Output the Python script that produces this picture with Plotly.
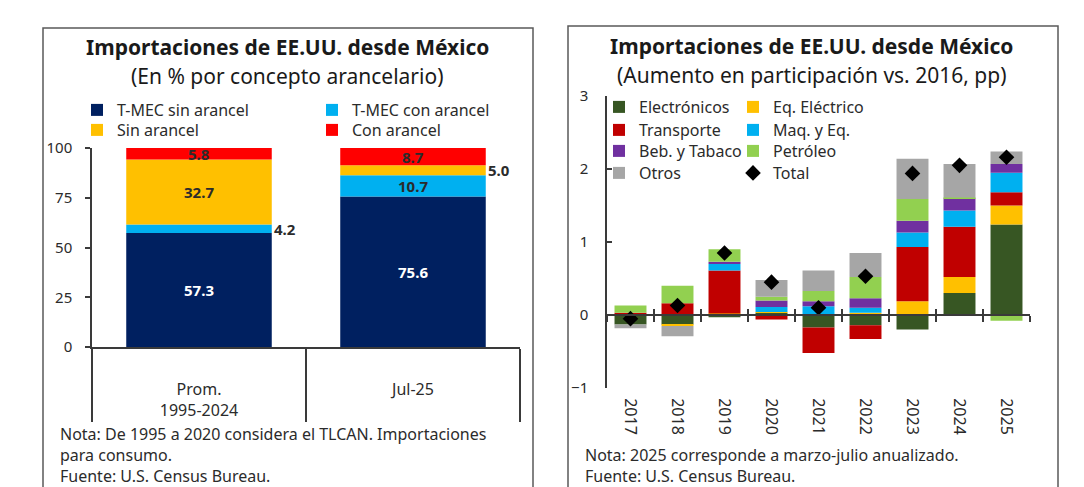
import plotly.graph_objects as go

# ---------------- Left chart data ----------------
left_categories = ["Prom.<br>1995-2024", "Jul-25"]
tmec_sin = [57.3, 75.6]
tmec_con = [4.2, 10.7]
sin_arancel = [32.7, 5.0]
con_arancel = [5.8, 8.7]
left_ticks = [0, 25, 50, 75, 100]

# ---------------- Right chart data ----------------
years = ["2017", "2018", "2019", "2020", "2021", "2022", "2023", "2024", "2025"]
electronicos = [-0.13, -0.13, -0.03, 0.03, -0.17, -0.14, -0.20, 0.30, 1.24]
eq_electrico = [0.00, -0.02, 0.02, 0.01, 0.00, 0.03, 0.19, 0.22, 0.26]
transporte = [0.03, 0.16, 0.59, -0.06, -0.35, -0.19, 0.74, 0.69, 0.18]
maq_eq = [0.00, 0.00, 0.09, 0.07, 0.12, 0.07, 0.20, 0.22, 0.27]
beb_tabaco = [0.00, 0.00, 0.03, 0.09, 0.07, 0.13, 0.16, 0.17, 0.12]
petroleo = [0.10, 0.24, 0.17, 0.05, 0.14, 0.29, 0.30, 0.01, -0.08]
otros = [-0.05, -0.14, 0.00, 0.23, 0.28, 0.33, 0.55, 0.46, 0.17]
total = [-0.05, 0.13, 0.85, 0.45, 0.10, 0.53, 1.94, 2.05, 2.16]
total_labels = ["", "", "", "", "", "", "1.9", "2.1", "2.2"]
right_ticks = [-1, 0, 1, 2, 3]

FONT = "Noto Sans"
AX = "#3a3a3a"
TXT = "#2b2b2b"
W, H = 1084, 487
OFF = 8  # page body margin offset


def px_x(p):
    return (p - OFF) / W


def px_y(p):
    return 1 - (p - OFF) / H


fig = go.Figure()
annotations = []
legends = {}

# ---------------- Left chart ----------------
left_series = [
    ("T-MEC sin arancel", tmec_sin, "#002060", "white", 117, 110),
    ("T-MEC con arancel", tmec_con, "#00b0f0", TXT, 352, 110),
    ("Sin arancel", sin_arancel, "#ffc000", TXT, 117, 130),
    ("Con arancel", con_arancel, "#ff0000", TXT, 352, 130),
]
base = [0.0] * len(left_categories)
for i, (name, vals, color, tcol, lx, ly) in enumerate(left_series):
    leg = "legend" if i == 0 else f"legend{i + 1}"
    legends[leg] = (lx, ly)
    fig.add_trace(go.Bar(
        x=left_categories, y=vals, name=name, marker=dict(color=color, line=dict(width=0)),
        xaxis="x", yaxis="y", legend=leg, hoverinfo="skip",
    ))
    for j, v in enumerate(vals):
        inside = v >= 5.5
        annotations.append(dict(
            x=left_categories[j], y=base[j] + v / 2, xref="x", yref="y", showarrow=False,
            text=f"<b>{v:.1f}</b>", xanchor="center" if inside else "left",
            xshift=0 if inside else 73,
            font=dict(family=FONT, size=15, color=tcol if inside else TXT)))
    base = [b + v for b, v in zip(base, vals)]

fig.add_trace(go.Scatter(x=left_categories, y=[0, 0], xaxis="x2", yaxis="y", mode="markers",
                         marker=dict(opacity=0), showlegend=False, hoverinfo="skip"))

# ---------------- Right chart ----------------
right_series = [
    ("Electrónicos", electronicos, "#375623", 639, 107),
    ("Eq. Eléctrico", eq_electrico, "#ffc000", 773, 107),
    ("Transporte", transporte, "#c00000", 639, 130),
    ("Maq. y Eq.", maq_eq, "#00b0f0", 773, 130),
    ("Beb. y Tabaco", beb_tabaco, "#7030a0", 639, 151),
    ("Petróleo", petroleo, "#92d050", 773, 151),
    ("Otros", otros, "#a6a6a6", 639, 173),
]
k = len(left_series)
for name, vals, color, lx, ly in right_series:
    k += 1
    leg = f"legend{k}"
    legends[leg] = (lx, ly)
    fig.add_trace(go.Bar(
        x=years, y=vals, name=name, marker=dict(color=color, line=dict(width=0)),
        xaxis="x3", yaxis="y3", legend=leg, hoverinfo="skip",
    ))
k += 1
legends[f"legend{k}"] = (773, 173)
fig.add_trace(go.Scatter(
    x=years, y=total, name="Total", mode="markers",
    marker=dict(symbol="diamond", color="black", size=12),
    xaxis="x3", yaxis="y3", legend=f"legend{k}", hoverinfo="skip",
))
fig.add_trace(go.Scatter(x=years, y=[0] * len(years), xaxis="x4", yaxis="y3", mode="markers",
                         marker=dict(opacity=0), showlegend=False, hoverinfo="skip"))
fig.add_trace(go.Scatter(x=years, y=[0] * len(years), xaxis="x5", yaxis="y3", mode="markers",
                         marker=dict(opacity=0), showlegend=False, hoverinfo="skip"))

pos_top = [sum(max(s[1][i], 0) for s in right_series) for i in range(len(years))]

# ---------------- Layout ----------------
ldom_x = [px_x(92), px_x(520)]
ldom_y = [px_y(347), px_y(148)]
rdom_x = [px_x(607), px_x(1030)]
rdom_y = [px_y(388), px_y(96)]
rrange = [-1, 3]
zero_pos = rdom_y[0] + (0 - rrange[0]) / (rrange[1] - rrange[0]) * (rdom_y[1] - rdom_y[0])

ytickfont = dict(family=FONT, size=15, color=TXT)
xtickfont = dict(family=FONT, size=16, color=TXT)

# titles
for cx, y1, y2, sub in [(287, 47, 76, "(En % por concepto arancelario)"),
                        (811, 46, 75, "(Aumento en participación vs. 2016, pp)")]:
    annotations.append(dict(x=px_x(cx), y=px_y(y1), xref="paper", yref="paper", showarrow=False,
                            text="<b>Importaciones de EE.UU. desde México</b>",
                            font=dict(family=FONT, size=21, color="#1a1a1a"), xanchor="center", yanchor="middle"))
    annotations.append(dict(x=px_x(cx), y=px_y(y2), xref="paper", yref="paper", showarrow=False,
                            text=sub, font=dict(family=FONT, size=21, color="#1a1a1a"),
                            xanchor="center", yanchor="middle"))
# total labels right
for yr, top, lab in zip(years, pos_top, total_labels):
    if lab:
        annotations.append(dict(x=yr, y=top, xref="x3", yref="y3", showarrow=False, text=lab,
                                yanchor="bottom", yshift=5, font=dict(family=FONT, size=16, color="#404040")))
# notes (one block per panel)
notes = [
    (58, "Nota: De 1995 a 2020 considera el TLCAN. Importaciones<br>para consumo.<br>Fuente: U.S. Census Bureau."),
    (583, "Nota: 2025 corresponde a marzo-julio anualizado.<br>Fuente: U.S. Census Bureau."),
]
for x, t in notes:
    annotations.append(dict(x=px_x(x), y=px_y(489), xref="paper", yref="paper", showarrow=False, text=t,
                            xanchor="left", yanchor="bottom", align="left",
                            font=dict(family=FONT, size=16, color=TXT)))

shapes = [
    dict(type="rect", xref="paper", yref="paper", x0=px_x(43), x1=px_x(533), y0=-0.05, y1=px_y(28),
         line=dict(color="#5a5a5a", width=1.5)),
    dict(type="rect", xref="paper", yref="paper", x0=px_x(568), x1=px_x(1058), y0=-0.05, y1=px_y(26),
         line=dict(color="#5a5a5a", width=1.5)),
]

legend_layout = {}
for leg, (tx, ty) in legends.items():
    legend_layout[leg] = dict(
        x=px_x(tx - 40), y=px_y(ty), xanchor="left", yanchor="middle",
        bgcolor="rgba(0,0,0,0)", font=dict(family=FONT, size=16, color=TXT),
        orientation="v", borderwidth=0)

fig.update_layout(
    template="none",
    width=W, height=H, margin=dict(l=0, r=0, t=0, b=0, pad=0, autoexpand=False),
    paper_bgcolor="white", plot_bgcolor="rgba(0,0,0,0)",
    barmode="relative", bargap=0.32,
    font=dict(family=FONT, size=15, color=TXT),
    xaxis=dict(domain=ldom_x, anchor="y", type="category", range=[-0.5, 1.5], showline=True,
               linecolor=AX, linewidth=1.5, ticks="outside", tickson="boundaries", ticklen=73,
               tickwidth=1.5, tickcolor=AX, showticklabels=False, showgrid=False, zeroline=False),
    xaxis2=dict(overlaying="x", anchor="y", side="bottom", type="category", range=[-0.5, 1.5],
                showline=False, ticks="outside", ticklen=28, tickcolor="rgba(0,0,0,0)",
                tickfont=xtickfont, showgrid=False, zeroline=False),
    yaxis=dict(domain=ldom_y, anchor="x", range=[0, 100], tickvals=left_ticks, showline=True,
               linecolor=AX, linewidth=1.5, ticks="outside", ticklen=5, tickcolor=AX, tickwidth=1.5,
               showgrid=False, zeroline=False, tickfont=ytickfont, ticklabelstandoff=10),
    xaxis3=dict(domain=rdom_x, anchor="y3", type="category", range=[-0.5, 8.5], showline=False,
                ticks="outside", ticklen=6, tickcolor="rgba(0,0,0,0)", tickangle=90, tickfont=xtickfont,
                showgrid=False, zeroline=False),
    xaxis4=dict(overlaying="x3", anchor="free", position=zero_pos, type="category", range=[-0.5, 8.5],
                showline=True, linecolor=AX, linewidth=1.5, ticks="outside", tickson="boundaries",
                ticklen=6, tickwidth=1.5, tickcolor=AX, showticklabels=False, showgrid=False, zeroline=False),
    xaxis5=dict(overlaying="x3", anchor="free", position=zero_pos, type="category", range=[-0.5, 8.5],
                showline=False, ticks="inside", tickson="boundaries",
                ticklen=6, tickwidth=1.5, tickcolor=AX, showticklabels=False, showgrid=False, zeroline=False),
    yaxis3=dict(domain=rdom_y, anchor="x3", range=rrange, tickvals=right_ticks, showline=True,
                linecolor=AX, linewidth=1.5, ticks="inside", ticklen=5, tickcolor=AX, tickwidth=1.5,
                showgrid=False, zeroline=False, tickfont=ytickfont, ticklabelstandoff=14),
    annotations=annotations, shapes=shapes,
    **legend_layout,
)

fig.write_html("out.html")
